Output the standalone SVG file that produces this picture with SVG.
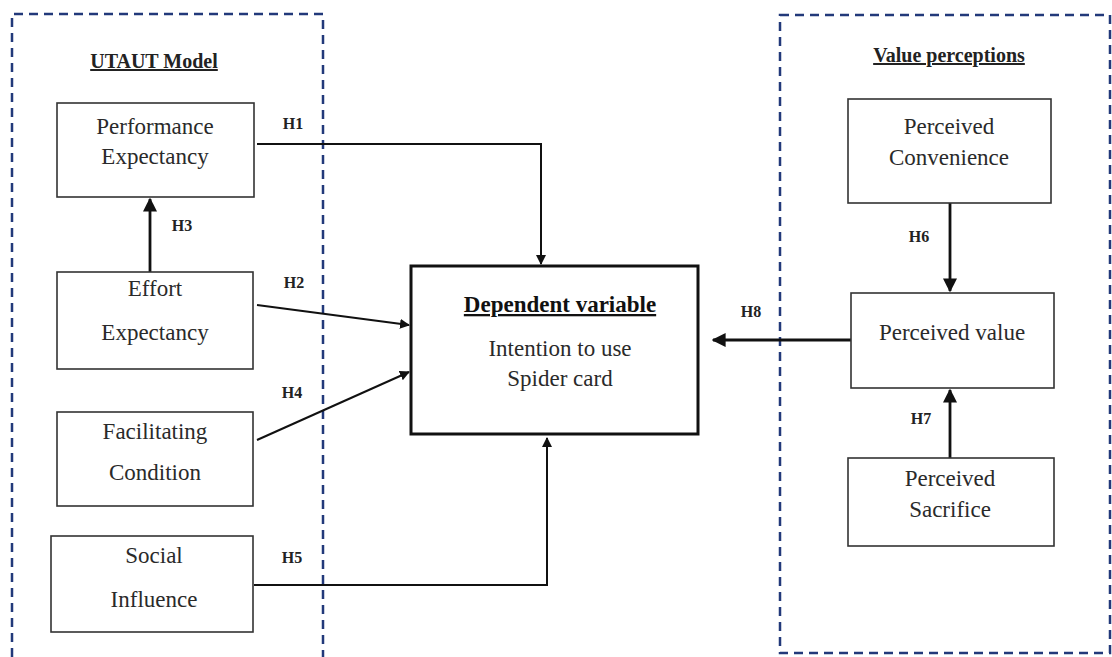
<svg xmlns="http://www.w3.org/2000/svg" width="1112" height="657" viewBox="0 0 1112 657">
<style>
.frame{fill:none;stroke:#22397a;stroke-width:2.5;stroke-dasharray:9 6}
.box{fill:#fff;stroke:#333;stroke-width:1.6}
.dep{fill:#fff;stroke:#111;stroke-width:3}
.t{font-family:"Liberation Serif",serif;font-size:23px;fill:#2a2a2a;text-anchor:middle}
.h{font-family:"Liberation Serif",serif;font-size:16px;font-weight:bold;fill:#222;text-anchor:middle}
.title{font-family:"Liberation Serif",serif;font-size:20px;font-weight:bold;fill:#222;text-anchor:middle;text-decoration:underline}
.c{fill:none;stroke:#111;stroke-width:2}
.ct{fill:none;stroke:#111;stroke-width:2.8}
</style>
<defs>
<marker id="ah" viewBox="0 0 10 10" refX="9" refY="5" markerWidth="5" markerHeight="5" orient="auto" markerUnits="strokeWidth">
<path d="M0,0 L10,5 L0,10 z" fill="#111"/>
</marker>
</defs>
<rect width="1112" height="657" fill="#fff"/>
<g id="frames">
<path class="frame" d="M12,657 L12,14 L323,14 L323,657"/>
<rect class="frame" x="780" y="15" width="330" height="638"/>
<text class="title" x="154" y="68">UTAUT Model</text>
<text class="title" x="949" y="62">Value perceptions</text>
</g>
<g id="connectors">
<polyline class="c" points="257,144 541,144 541,264" marker-end="url(#ah)"/>
<line class="c" x1="257" y1="305" x2="409" y2="325" marker-end="url(#ah)"/>
<line class="c" x1="257" y1="440" x2="409" y2="372" marker-end="url(#ah)"/>
<polyline class="c" points="254,585 547,585 547,438" marker-end="url(#ah)"/>
<line class="ct" x1="150" y1="272" x2="150" y2="199" marker-end="url(#ah)"/>
<line class="ct" x1="950" y1="203" x2="950" y2="291" marker-end="url(#ah)"/>
<line class="ct" x1="950" y1="458" x2="950" y2="390" marker-end="url(#ah)"/>
<line class="ct" x1="851" y1="340" x2="713" y2="340" marker-end="url(#ah)"/>
<text class="h" x="293" y="129">H1</text>
<text class="h" x="294" y="288">H2</text>
<text class="h" x="182" y="231">H3</text>
<text class="h" x="292" y="398">H4</text>
<text class="h" x="292" y="563">H5</text>
<text class="h" x="919" y="242">H6</text>
<text class="h" x="921" y="424">H7</text>
<text class="h" x="751" y="317">H8</text>
</g>
<g id="performance">
<rect class="box" x="57" y="103" width="197" height="94"/>
<text class="t" x="155" y="134">Performance</text>
<text class="t" x="155" y="164">Expectancy</text>
</g>
<g id="effort">
<rect class="box" x="57" y="272" width="196" height="97"/>
<text class="t" x="155" y="296">Effort</text>
<text class="t" x="155" y="340">Expectancy</text>
</g>
<g id="facilitating">
<rect class="box" x="57" y="412" width="196" height="94"/>
<text class="t" x="155" y="439">Facilitating</text>
<text class="t" x="155" y="480">Condition</text>
</g>
<g id="social">
<rect class="box" x="51" y="536" width="202" height="96"/>
<text class="t" x="154" y="563">Social</text>
<text class="t" x="154" y="607">Influence</text>
</g>
<g id="dependent">
<rect class="dep" x="411" y="266" width="287" height="168"/>
<text class="t" x="560" y="312" style="font-weight:bold;text-decoration:underline;fill:#111">Dependent variable</text>
<text class="t" x="560" y="356">Intention to use</text>
<text class="t" x="560" y="386">Spider card</text>
</g>
<g id="convenience">
<rect class="box" x="848" y="99" width="203" height="104"/>
<text class="t" x="949" y="134">Perceived</text>
<text class="t" x="949" y="165">Convenience</text>
</g>
<g id="value">
<rect class="box" x="851" y="293" width="203" height="95"/>
<text class="t" x="952" y="340">Perceived value</text>
</g>
<g id="sacrifice">
<rect class="box" x="848" y="458" width="206" height="88"/>
<text class="t" x="950" y="486">Perceived</text>
<text class="t" x="950" y="517">Sacrifice</text>
</g>
</svg>
